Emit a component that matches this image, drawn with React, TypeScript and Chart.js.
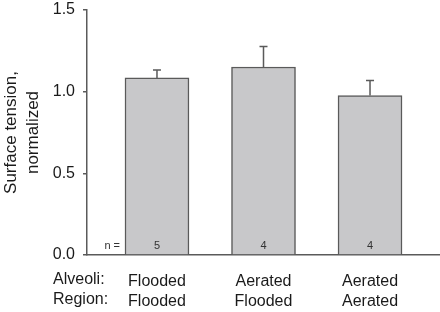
import React, { useEffect, useRef } from "react";
import { Chart, registerables } from "chart.js";

Chart.register(...registerables);

const alveoli = ["Flooded", "Aerated", "Aerated"];
const region = ["Flooded", "Flooded", "Aerated"];
const values = [1.084, 1.151, 0.976];
const errors = [0.049, 0.125, 0.093];
const nCounts = [5, 4, 4];
const yTicks = [0, 0.5, 1.0, 1.5];
const rowLabels = ["Alveoli:", "Region:"];

const FONT = "'Liberation Sans', Arial, sans-serif";
const AXIS = "#5a5a5a";

export default function App() {
  const ref = useRef<HTMLCanvasElement>(null);
  useEffect(() => {
    const errPlugin = {
      id: "extras",
      afterDatasetsDraw(chart: any) {
        const ctx = chart.ctx;
        const xs = chart.scales.x;
        const ys = chart.scales.y;
        ctx.save();
        ctx.strokeStyle = AXIS;
        ctx.lineWidth = 1.5;
        values.forEach((v, i) => {
          const x = xs.getPixelForValue(i + 1);
          const y0 = ys.getPixelForValue(v);
          const y1 = ys.getPixelForValue(v + errors[i]);
          ctx.beginPath();
          ctx.moveTo(x, y0);
          ctx.lineTo(x, y1);
          ctx.moveTo(x - 4, y1);
          ctx.lineTo(x + 4, y1);
          ctx.stroke();
        });
        ctx.fillStyle = "#333";
        ctx.font = `11px ${FONT}`;
        ctx.textBaseline = "middle";
        ctx.textAlign = "center";
        const yb = ys.getPixelForValue(0) - 9;
        nCounts.forEach((n, i) => {
          ctx.fillText(String(n), xs.getPixelForValue(i + 1), yb);
        });
        ctx.textAlign = "right";
        ctx.fillText("n =", xs.getPixelForValue(1) - 37, yb);
        ctx.fillStyle = "#1a1a1a";
        ctx.font = `16px ${FONT}`;
        ctx.textAlign = "left";
        const top = xs.top + 25;
        rowLabels.forEach((t, i) => ctx.fillText(t, 53, top + i * 20));
        ctx.restore();
      },
    };
    const chart = new Chart(ref.current!, {
      type: "bar",
      data: {
        datasets: [
          {
            data: values.map((v, i) => ({ x: i + 1, y: v })),
            backgroundColor: "#c8c8ca",
            borderColor: AXIS,
            borderWidth: 1.5,
            barThickness: 64,
          },
        ],
      },
      options: {
        animation: false,
        responsive: false,
        layout: { padding: { top: 0, right: 0, left: 0, bottom: 0 } },
        plugins: { legend: { display: false }, tooltip: { enabled: false } },
        scales: {
          x: {
            type: "linear",
            min: 0.343,
            max: 3.657,
            offset: false,
            bounds: "data",
            afterBuildTicks: (s: any) => {
              s.ticks = [{ value: 1 }, { value: 2 }, { value: 3 }];
            },
            afterFit: (s: any) => {
              s.height = 57;
              s.paddingLeft = 0;
              s.paddingRight = 0;
            },
            grid: { display: false },
            border: { display: true, color: AXIS, width: 1.5 },
            ticks: {
              autoSkip: false,
              maxRotation: 0,
              padding: 9,
              color: "#1a1a1a",
              font: { family: FONT, size: 16, lineHeight: 1.25 },
              callback: (v: any) => {
                const i = Math.round(Number(v)) - 1;
                return [alveoli[i], region[i]];
              },
            },
          },
          y: {
            min: 0,
            max: 1.5,
            afterBuildTicks: (s: any) => {
              s.ticks = yTicks.map((v) => ({ value: v }));
            },
            afterFit: (s: any) => {
              s.width = 87;
              s.paddingTop = 10;
              s.paddingBottom = 0;
            },
            grid: { drawOnChartArea: false, drawTicks: true, tickLength: 4, color: AXIS, lineWidth: 1.5 },
            border: { display: true, color: AXIS, width: 1.5 },
            ticks: {
              padding: 8,
              color: "#1a1a1a",
              font: { family: FONT, size: 16 },
              callback: (v: any) => Number(v).toFixed(1),
            },
            title: {
              display: true,
              text: ["Surface tension,", "normalized"],
              color: "#1a1a1a",
              font: { family: FONT, size: 17, lineHeight: 1.3 },
              padding: { top: 0, bottom: 0 },
            },
          },
        },
      },
      plugins: [errPlugin],
    });
    return () => chart.destroy();
  }, []);
  return (
    <div style={{ position: "fixed", left: 0, top: 0, width: 440, height: 312, background: "#fff" }}>
      <canvas ref={ref} width={440} height={312} style={{ width: 440, height: 312 }} />
    </div>
  );
}
